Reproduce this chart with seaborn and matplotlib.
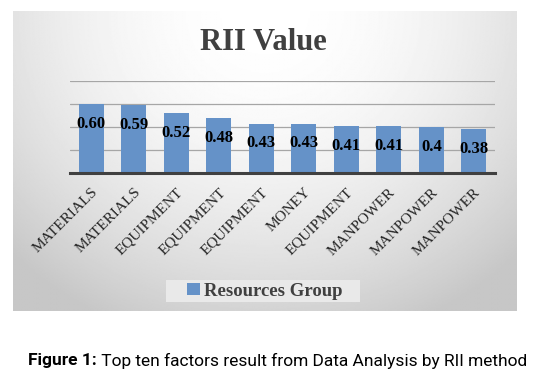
import numpy as np
import pandas as pd
import matplotlib
matplotlib.use("Agg")
import matplotlib.pyplot as plt
from matplotlib.patches import Rectangle
import seaborn as sns

# RII values for the top ten factors
factors = ["MATERIALS", "MATERIALS", "EQUIPMENT", "EQUIPMENT", "EQUIPMENT",
           "MONEY", "EQUIPMENT", "MANPOWER", "MANPOWER", "MANPOWER"]
rii = [0.60, 0.59, 0.52, 0.48, 0.43, 0.43, 0.41, 0.41, 0.40, 0.38]
rii_labels = ["0.60", "0.59", "0.52", "0.48", "0.43", "0.43", "0.41", "0.41", "0.4", "0.38"]
yticks = [0.2, 0.4, 0.6, 0.8]

df = pd.DataFrame({"rank": [str(i) for i in range(len(rii))], "rii": rii})

sns.set_style("white")
plt.rcParams["font.family"] = ["Liberation Serif", "DejaVu Serif"]

W, H = 557, 381
fig = plt.figure(figsize=(W / 100, H / 100), dpi=100)
fig.patch.set_facecolor("white")

def px(x0, y0, x1, y1):
    return [x0 / W, 1 - y1 / H, (x1 - x0) / W, (y1 - y0) / H]

# chart area background: radial gradient, white at top centre
bg = fig.add_axes(px(13, 11, 517, 311))
gx, gy = np.meshgrid(np.linspace(-1, 1, 400), np.linspace(0, 1, 240))
r = np.sqrt(gx ** 2 + (gy / 0.8) ** 2)
shade = 1.0 - np.clip(0.11 * r ** 1.95, 0, 0.22)
bg.imshow(shade, cmap="gray", vmin=0, vmax=1, aspect="auto", extent=[0, 1, 1, 0])
bg.set_xlim(0, 1)
bg.set_ylim(1, 0)
bg.axis("off")

ax = fig.add_axes(px(70, 81, 495, 173))
ax.patch.set_alpha(0)
sns.barplot(data=df, x="rank", y="rii", color="#6592c8", saturation=1,
            width=0.59, ax=ax, zorder=3, linewidth=0, edgecolor="none")
ax.set_xlim(-0.5, 9.5)
ax.set_ylim(0, 0.8)
ax.set_yticks(yticks)
ax.set_yticklabels([])
ax.tick_params(axis="y", length=0)
ax.grid(axis="y", color="#a6a6a6", lw=0.9, zorder=0)
ax.set_axisbelow(True)
for s in ["top", "right", "left"]:
    ax.spines[s].set_visible(False)
ax.spines["bottom"].set_color("#404040")
ax.spines["bottom"].set_linewidth(2.2)
ax.spines["bottom"].set_zorder(4)
ax.set_xlabel("")
ax.set_ylabel("")
ax.set_xticks(range(len(factors)))
ax.set_xticklabels(factors, rotation=45, ha="right", rotation_mode="anchor",
                   fontsize=11, color="#262626")
ax.tick_params(axis="x", length=0, pad=9)

ax.bar_label(ax.containers[0], labels=rii_labels, padding=-20,
             fontsize=12, fontweight="bold", color="black", zorder=5)

fig.text(263 / W, 1 - 43 / H, "RII Value", ha="center", va="center",
         fontsize=22, fontweight="bold", color="#404040")

# legend box
fig.patches.append(Rectangle((166 / W, 1 - 302 / H), 194 / W, 22 / H,
                             transform=fig.transFigure, facecolor="#e9e9e9",
                             edgecolor="none", zorder=1))
leg = fig.legend(handles=ax.containers[0].patches[:1], labels=["Resources Group"],
                 loc="center", bbox_to_anchor=(265 / W, 1 - 291 / H),
                 frameon=False, handlelength=0.65, handleheight=0.65,
                 handletextpad=0.25, borderpad=0, borderaxespad=0,
                 prop={"family": "Liberation Serif", "weight": "bold", "size": 13.5})
for t in leg.get_texts():
    t.set_color("#404040")

# caption below the chart, bold lead-in then regular text
cap_font = ["Roboto", "DejaVu Sans"]
fig.canvas.draw()
renderer = fig.canvas.get_renderer()
t1 = fig.text(0, 1 - 361 / H, "Figure 1:", ha="left", va="center",
              fontsize=12.5, fontweight="bold", family=cap_font, color="black")
t2 = fig.text(0, 1 - 361 / H, " Top ten factors result from Data Analysis by RII method",
              ha="left", va="center", fontsize=12.5, family=cap_font, color="black")
w1 = t1.get_window_extent(renderer).width
w2 = t2.get_window_extent(renderer).width
x0 = 278 - (w1 + w2) / 2
t1.set_x(x0 / W)
t2.set_x((x0 + w1) / W)

fig.savefig("out.png", dpi=100)
